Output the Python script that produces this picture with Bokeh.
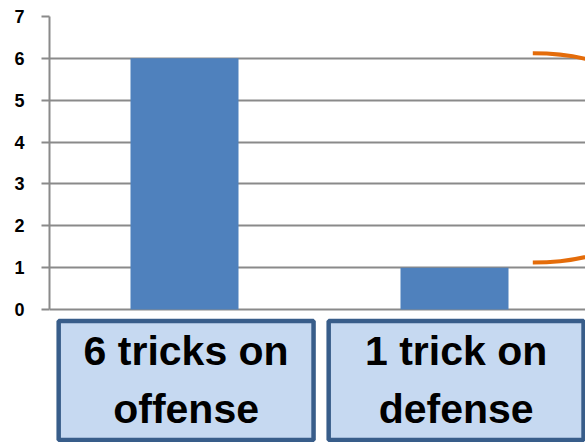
from bokeh.plotting import figure
from bokeh.models import Range1d, FixedTicker
from bokeh.embed import file_html
from bokeh.resources import INLINE
from bokeh.core.properties import value

# ---- data ----
categories = ["6 tricks on\noffense", "1 trick on\ndefense"]
tricks = [6, 1]
y_ticks = [0, 1, 2, 3, 4, 5, 6, 7]

# ---- styling ----
BAR = "#4F81BD"
GRID = "#8A8A8A"
BOX_FILL = "#C6D9F1"
BOX_LINE = "#385D8A"
ORANGE = "#E46C0A"

W, H = 585, 442
FRAME_LEFT, FRAME_TOP = 49, 16
CAT_PX = 270
UNIT_PX = 293 / 7            # pixels per trick
BELOW_PX = H - 309           # room under the zero line for label boxes

x_pos = [i + 0.5 for i in range(len(categories))]

p = figure(width=W, height=H,
           x_range=Range1d(0, (W - FRAME_LEFT) / CAT_PX),
           y_range=Range1d(-BELOW_PX / UNIT_PX, max(y_ticks)),
           x_axis_location=None, output_backend="svg", toolbar_location=None,
           min_border_left=FRAME_LEFT, min_border_right=0,
           min_border_top=FRAME_TOP, min_border_bottom=0)
p.outline_line_color = None
p.xgrid.visible = False
p.ygrid.ticker = FixedTicker(ticks=y_ticks)
p.ygrid.grid_line_color = GRID
p.ygrid.grid_line_width = 2

ax = p.yaxis[0]
ax.ticker = FixedTicker(ticks=y_ticks)
ax.bounds = (0, max(y_ticks))
ax.axis_line_color = GRID
ax.axis_line_width = 2
ax.major_tick_line_color = GRID
ax.major_tick_line_width = 2
ax.major_tick_in = 0
ax.major_tick_out = 8
ax.minor_tick_line_color = None
ax.major_label_standoff = 17
ax.major_label_text_font = "Liberation Sans"
ax.major_label_text_font_style = "bold"
ax.major_label_text_font_size = "18px"
ax.major_label_text_color = "black"

p.vbar(x=x_pos, top=tricks, width=0.4, fill_color=BAR, line_color=None)

# orange bracket spanning the two bar heights
bx = 1.79
bulge = 0.73
top_y = tricks[0] + 0.12
bot_y = tricks[1] + 0.12
p.bezier(x0=[bx], y0=[top_y], x1=[bx], y1=[bot_y],
         cx0=[bx + bulge], cy0=[top_y], cx1=[bx + bulge], cy1=[bot_y],
         line_color=ORANGE, line_width=4)

# category label boxes under the zero line (offsets in pixels below zero)
def below(px):
    return -px / UNIT_PX

half = 0.472
shift = 0.006
p.quad(left=[x - half + shift for x in x_pos], right=[x + half + shift for x in x_pos],
       top=below(11.5), bottom=below(130.5),
       fill_color=BOX_FILL, line_color=BOX_LINE, line_width=4.5)
p.text(x=[x + shift for x in x_pos], y=below(70.5), text=categories, text_align="center",
       text_baseline="middle", text_font=value("Liberation Sans"),
       text_font_style="bold", text_font_size="41px", text_line_height=1.28,
       text_color="black")

open("out.html", "w").write(file_html(p, INLINE))
